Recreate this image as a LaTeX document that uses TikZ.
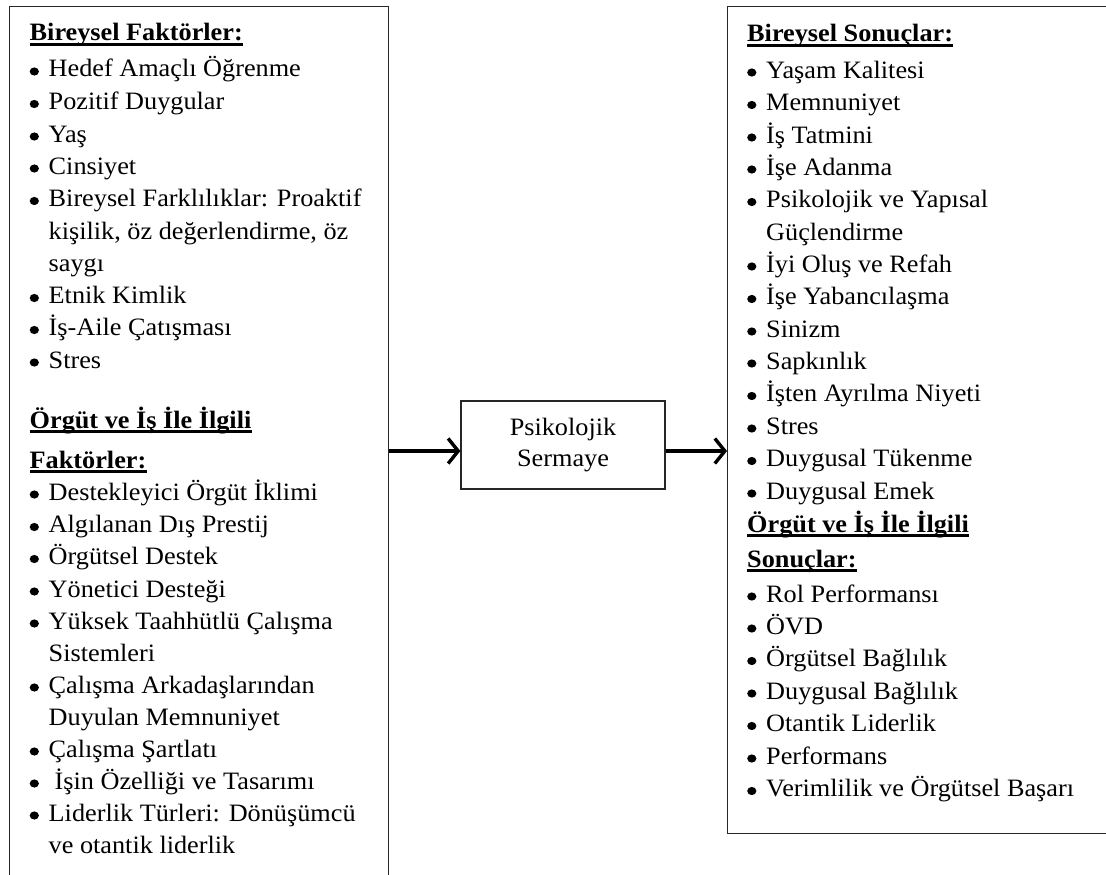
\documentclass[tikz,border=0pt]{standalone}
\usepackage{fontspec}
\setmainfont{Liberation Serif}[FakeStretch=1.05]
\usetikzlibrary{arrows.meta}

\tikzset{
  frame/.style={draw=black!85, line width=1.3pt, inner sep=0pt, fill=none},
  txt/.style={anchor=base west, inner sep=0pt, font=\fontsize{25}{30}\selectfont},
  hd/.style={txt, font=\fontsize{25}{30}\selectfont\bfseries},
  flow/.style={line width=3.2pt, -{Straight Barb[length=10pt,width=25pt,line width=3.4pt]}},
  hdline/.style={line width=2.6pt},
  dot/.style={fill=black}
}

% bullet item: name, bullet x, baseline y, text
\newcommand\bitem[4]{%
  \fill[dot] (#2+4.8,-#3+5.5) ellipse (4.6pt and 4.1pt);
  \node[txt] (#1) at (#2+19,-#3) {#4};}
% wrapped continuation line
\newcommand\citem[4]{\node[txt] (#1) at (#2+19,-#3) {#4};}
% underlined heading
\newcommand\hditem[4]{%
  \node[hd] (#1) at (#2,-#3) {#4};
  \draw[hdline] ([yshift=-3.5pt]#1.base west) -- ([yshift=-3.5pt]#1.base east);}

\begin{document}
\begin{tikzpicture}[x=1pt, y=1pt]
\useasboundingbox (0,0) rectangle (1106,-875);
\clip (0,0) rectangle (1106,-875);

% the three boxes
\node[frame, anchor=north west, minimum width=379pt, minimum height=920pt] (lbox) at (9,-6) {};
\node[frame, anchor=north west, minimum width=420pt, minimum height=827pt] (rbox) at (727,-6) {};
\node[frame, minimum width=204pt, minimum height=88pt, align=center,
      font=\fontsize{25}{31}\selectfont] (mid) at (563,-445) {Psikolojik\\Sermaye};

% connectors
\coordinate (ml) at ([yshift=-6pt]mid.west);
\coordinate (mr) at ([yshift=-6pt]mid.east);
\draw[flow] (ml -| lbox.east) -- (ml);
\draw[flow] (mr) -- (mr -| rbox.west);

% left box: factors
\hditem{lh1}{29.5}{41}{Bireysel Faktörler:}
\bitem{l1}{29.5}{77}{Hedef Amaçlı Öğrenme}
\bitem{l2}{29.5}{109.5}{Pozitif Duygular}
\bitem{l3}{29.5}{142}{Yaş}
\bitem{l4}{29.5}{174}{Cinsiyet}
\bitem{l5}{29.5}{206.5}{Bireysel Farklılıklar: Proaktif}
\citem{l5a}{29.5}{239}{kişilik, öz değerlendirme, öz}
\citem{l5b}{29.5}{271}{saygı}
\bitem{l6}{29.5}{303.5}{Etnik Kimlik}
\bitem{l7}{29.5}{335.5}{İş-Aile Çatışması}
\bitem{l8}{29.5}{368}{Stres}
\hditem{lh2}{29.5}{428}{Örgüt ve İş İle İlgili}
\hditem{lh3}{29.5}{468}{Faktörler:}
\bitem{l9}{29.5}{500}{Destekleyici Örgüt İklimi}
\bitem{l10}{29.5}{532.5}{Algılanan Dış Prestij}
\bitem{l11}{29.5}{564.5}{Örgütsel Destek}
\bitem{l12}{29.5}{597}{Yönetici Desteği}
\bitem{l13}{29.5}{629}{Yüksek Taahhütlü Çalışma}
\citem{l13a}{29.5}{661}{Sistemleri}
\bitem{l14}{29.5}{693}{Çalışma Arkadaşlarından}
\citem{l14a}{29.5}{725}{Duyulan Memnuniyet}
\bitem{l15}{29.5}{757}{Çalışma Şartlatı}
\bitem{l16}{29.5}{789}{\hspace{6pt}İşin Özelliği ve Tasarımı}
\bitem{l17}{29.5}{821}{Liderlik Türleri: Dönüşümcü}
\citem{l17a}{29.5}{853}{ve otantik liderlik}

% right box: outcomes
\hditem{rh1}{747}{42}{Bireysel Sonuçlar:}
\bitem{r1}{747}{78}{Yaşam Kalitesi}
\bitem{r2}{747}{110.5}{Memnuniyet}
\bitem{r3}{747}{143}{İş Tatmini}
\bitem{r4}{747}{175}{İşe Adanma}
\bitem{r5}{747}{207.5}{Psikolojik ve Yapısal}
\citem{r5a}{747}{240}{Güçlendirme}
\bitem{r6}{747}{272}{İyi Oluş ve Refah}
\bitem{r7}{747}{304.5}{İşe Yabancılaşma}
\bitem{r8}{747}{337}{Sinizm}
\bitem{r9}{747}{369}{Sapkınlık}
\bitem{r10}{747}{401.5}{İşten Ayrılma Niyeti}
\bitem{r11}{747}{434}{Stres}
\bitem{r12}{747}{466.5}{Duygusal Tükenme}
\bitem{r13}{747}{499}{Duygusal Emek}
\hditem{rh2}{747}{532}{Örgüt ve İş İle İlgili}
\hditem{rh3}{747}{567}{Sonuçlar:}
\bitem{r14}{747}{602}{Rol Performansı}
\bitem{r15}{747}{634}{ÖVD}
\bitem{r16}{747}{666.5}{Örgütsel Bağlılık}
\bitem{r17}{747}{699}{Duygusal Bağlılık}
\bitem{r18}{747}{731.5}{Otantik Liderlik}
\bitem{r19}{747}{764}{Performans}
\bitem{r20}{747}{796.5}{Verimlilik ve Örgütsel Başarı}
\end{tikzpicture}
\end{document}
